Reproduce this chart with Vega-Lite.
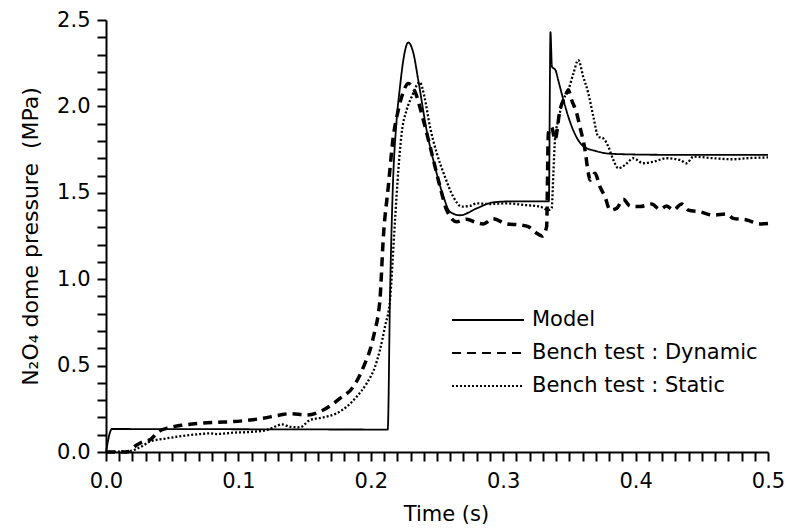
{
  "$schema": "https://vega.github.io/schema/vega-lite/v6.json",
  "width": 662,
  "height": 432,
  "autosize": "none",
  "padding": {"left": 106, "top": 20, "right": 20, "bottom": 77},
  "background": "white",
  "config": {
    "view": {"stroke": null},
    "font": "DejaVu Sans",
    "axis": {
      "grid": false,
      "domainColor": "black",
      "domainWidth": 2,
      "tickColor": "black",
      "tickWidth": 2,
      "tickSize": 9,
      "labelColor": "black",
      "labelFontSize": 21,
      "labelFont": "DejaVu Sans",
      "labelOverlap": false,
      "labelFlush": false,
      "titleColor": "black",
      "titleFontSize": 21,
      "titleFont": "DejaVu Sans",
      "titleFontWeight": "normal"
    }
  },
  "data": {
    "values": [
      {"s": "Model", "t": 0, "p": 0},
      {"s": "Model", "t": 0.0045, "p": 0.133},
      {"s": "Model", "t": 0.2128, "p": 0.13},
      {"s": "Model", "t": 0.2145, "p": 0.9},
      {"s": "Model", "t": 0.2165, "p": 1.5},
      {"s": "Model", "t": 0.2195, "p": 1.92},
      {"s": "Model", "t": 0.222, "p": 2.11},
      {"s": "Model", "t": 0.2246, "p": 2.27},
      {"s": "Model", "t": 0.2283, "p": 2.37},
      {"s": "Model", "t": 0.2321, "p": 2.31},
      {"s": "Model", "t": 0.2359, "p": 2.15},
      {"s": "Model", "t": 0.2422, "p": 1.86},
      {"s": "Model", "t": 0.2485, "p": 1.65},
      {"s": "Model", "t": 0.2548, "p": 1.48},
      {"s": "Model", "t": 0.2598, "p": 1.39},
      {"s": "Model", "t": 0.2674, "p": 1.37},
      {"s": "Model", "t": 0.28, "p": 1.41},
      {"s": "Model", "t": 0.2925, "p": 1.445},
      {"s": "Model", "t": 0.305, "p": 1.45},
      {"s": "Model", "t": 0.3345, "p": 1.45},
      {"s": "Model", "t": 0.3357, "p": 2.43},
      {"s": "Model", "t": 0.3368, "p": 2.23},
      {"s": "Model", "t": 0.3395, "p": 2.21},
      {"s": "Model", "t": 0.3416, "p": 2.15},
      {"s": "Model", "t": 0.3454, "p": 2.04},
      {"s": "Model", "t": 0.3492, "p": 1.94},
      {"s": "Model", "t": 0.3542, "p": 1.84},
      {"s": "Model", "t": 0.3605, "p": 1.77},
      {"s": "Model", "t": 0.3706, "p": 1.74},
      {"s": "Model", "t": 0.3832, "p": 1.725},
      {"s": "Model", "t": 0.42, "p": 1.72},
      {"s": "Model", "t": 0.5, "p": 1.72},

      {"s": "Bench test : Dynamic", "t": 0, "p": 0},
      {"s": "Bench test : Dynamic", "t": 0.0156, "p": 0.0},
      {"s": "Bench test : Dynamic", "t": 0.0232, "p": 0.04},
      {"s": "Bench test : Dynamic", "t": 0.0282, "p": 0.06},
      {"s": "Bench test : Dynamic", "t": 0.0332, "p": 0.07},
      {"s": "Bench test : Dynamic", "t": 0.037, "p": 0.098},
      {"s": "Bench test : Dynamic", "t": 0.0408, "p": 0.123},
      {"s": "Bench test : Dynamic", "t": 0.0458, "p": 0.137},
      {"s": "Bench test : Dynamic", "t": 0.0584, "p": 0.156},
      {"s": "Bench test : Dynamic", "t": 0.071, "p": 0.166},
      {"s": "Bench test : Dynamic", "t": 0.0836, "p": 0.172},
      {"s": "Bench test : Dynamic", "t": 0.0962, "p": 0.176},
      {"s": "Bench test : Dynamic", "t": 0.1088, "p": 0.185},
      {"s": "Bench test : Dynamic", "t": 0.1214, "p": 0.199},
      {"s": "Bench test : Dynamic", "t": 0.1314, "p": 0.214},
      {"s": "Bench test : Dynamic", "t": 0.139, "p": 0.222},
      {"s": "Bench test : Dynamic", "t": 0.1516, "p": 0.214},
      {"s": "Bench test : Dynamic", "t": 0.1641, "p": 0.243},
      {"s": "Bench test : Dynamic", "t": 0.1767, "p": 0.31},
      {"s": "Bench test : Dynamic", "t": 0.1868, "p": 0.378},
      {"s": "Bench test : Dynamic", "t": 0.1918, "p": 0.446},
      {"s": "Bench test : Dynamic", "t": 0.1956, "p": 0.513},
      {"s": "Bench test : Dynamic", "t": 0.1994, "p": 0.59},
      {"s": "Bench test : Dynamic", "t": 0.2032, "p": 0.706},
      {"s": "Bench test : Dynamic", "t": 0.2057, "p": 0.8},
      {"s": "Bench test : Dynamic", "t": 0.2069, "p": 0.88},
      {"s": "Bench test : Dynamic", "t": 0.2095, "p": 1.246},
      {"s": "Bench test : Dynamic", "t": 0.2132, "p": 1.535},
      {"s": "Bench test : Dynamic", "t": 0.217, "p": 1.825},
      {"s": "Bench test : Dynamic", "t": 0.2208, "p": 1.98},
      {"s": "Bench test : Dynamic", "t": 0.2246, "p": 2.085},
      {"s": "Bench test : Dynamic", "t": 0.2283, "p": 2.133},
      {"s": "Bench test : Dynamic", "t": 0.2334, "p": 2.085},
      {"s": "Bench test : Dynamic", "t": 0.2397, "p": 1.92},
      {"s": "Bench test : Dynamic", "t": 0.246, "p": 1.73},
      {"s": "Bench test : Dynamic", "t": 0.2523, "p": 1.535},
      {"s": "Bench test : Dynamic", "t": 0.2573, "p": 1.4},
      {"s": "Bench test : Dynamic", "t": 0.2649, "p": 1.333},
      {"s": "Bench test : Dynamic", "t": 0.2724, "p": 1.347},
      {"s": "Bench test : Dynamic", "t": 0.28, "p": 1.327},
      {"s": "Bench test : Dynamic", "t": 0.285, "p": 1.32},
      {"s": "Bench test : Dynamic", "t": 0.2925, "p": 1.35},
      {"s": "Bench test : Dynamic", "t": 0.3026, "p": 1.32},
      {"s": "Bench test : Dynamic", "t": 0.3127, "p": 1.314},
      {"s": "Bench test : Dynamic", "t": 0.319, "p": 1.304},
      {"s": "Bench test : Dynamic", "t": 0.3253, "p": 1.266},
      {"s": "Bench test : Dynamic", "t": 0.3296, "p": 1.25},
      {"s": "Bench test : Dynamic", "t": 0.3328, "p": 1.304},
      {"s": "Bench test : Dynamic", "t": 0.3341, "p": 1.844},
      {"s": "Bench test : Dynamic", "t": 0.3366, "p": 1.88},
      {"s": "Bench test : Dynamic", "t": 0.3391, "p": 1.806},
      {"s": "Bench test : Dynamic", "t": 0.3429, "p": 1.98},
      {"s": "Bench test : Dynamic", "t": 0.3467, "p": 2.056},
      {"s": "Bench test : Dynamic", "t": 0.3492, "p": 2.095},
      {"s": "Bench test : Dynamic", "t": 0.3517, "p": 2.037},
      {"s": "Bench test : Dynamic", "t": 0.3555, "p": 1.96},
      {"s": "Bench test : Dynamic", "t": 0.358, "p": 1.88},
      {"s": "Bench test : Dynamic", "t": 0.3618, "p": 1.748},
      {"s": "Bench test : Dynamic", "t": 0.3643, "p": 1.613},
      {"s": "Bench test : Dynamic", "t": 0.3656, "p": 1.574},
      {"s": "Bench test : Dynamic", "t": 0.3693, "p": 1.613},
      {"s": "Bench test : Dynamic", "t": 0.3731, "p": 1.535},
      {"s": "Bench test : Dynamic", "t": 0.3769, "p": 1.477},
      {"s": "Bench test : Dynamic", "t": 0.3807, "p": 1.4},
      {"s": "Bench test : Dynamic", "t": 0.3857, "p": 1.41},
      {"s": "Bench test : Dynamic", "t": 0.3907, "p": 1.462},
      {"s": "Bench test : Dynamic", "t": 0.3958, "p": 1.424},
      {"s": "Bench test : Dynamic", "t": 0.4033, "p": 1.42},
      {"s": "Bench test : Dynamic", "t": 0.4121, "p": 1.435},
      {"s": "Bench test : Dynamic", "t": 0.4184, "p": 1.404},
      {"s": "Bench test : Dynamic", "t": 0.4235, "p": 1.424},
      {"s": "Bench test : Dynamic", "t": 0.4285, "p": 1.4},
      {"s": "Bench test : Dynamic", "t": 0.4348, "p": 1.435},
      {"s": "Bench test : Dynamic", "t": 0.4398, "p": 1.4},
      {"s": "Bench test : Dynamic", "t": 0.4486, "p": 1.39},
      {"s": "Bench test : Dynamic", "t": 0.4587, "p": 1.371},
      {"s": "Bench test : Dynamic", "t": 0.4688, "p": 1.377},
      {"s": "Bench test : Dynamic", "t": 0.4738, "p": 1.352},
      {"s": "Bench test : Dynamic", "t": 0.4839, "p": 1.343},
      {"s": "Bench test : Dynamic", "t": 0.494, "p": 1.32},
      {"s": "Bench test : Dynamic", "t": 0.5, "p": 1.323},

      {"s": "Bench test : Static", "t": 0, "p": 0},
      {"s": "Bench test : Static", "t": 0.018, "p": 0.006},
      {"s": "Bench test : Static", "t": 0.0257, "p": 0.027},
      {"s": "Bench test : Static", "t": 0.0332, "p": 0.06},
      {"s": "Bench test : Static", "t": 0.0458, "p": 0.079},
      {"s": "Bench test : Static", "t": 0.0584, "p": 0.093},
      {"s": "Bench test : Static", "t": 0.071, "p": 0.104},
      {"s": "Bench test : Static", "t": 0.0785, "p": 0.108},
      {"s": "Bench test : Static", "t": 0.0836, "p": 0.104},
      {"s": "Bench test : Static", "t": 0.0962, "p": 0.112},
      {"s": "Bench test : Static", "t": 0.1088, "p": 0.116},
      {"s": "Bench test : Static", "t": 0.1214, "p": 0.127},
      {"s": "Bench test : Static", "t": 0.1289, "p": 0.15},
      {"s": "Bench test : Static", "t": 0.1327, "p": 0.16},
      {"s": "Bench test : Static", "t": 0.139, "p": 0.146},
      {"s": "Bench test : Static", "t": 0.1465, "p": 0.143},
      {"s": "Bench test : Static", "t": 0.1541, "p": 0.185},
      {"s": "Bench test : Static", "t": 0.1641, "p": 0.2},
      {"s": "Bench test : Static", "t": 0.1742, "p": 0.224},
      {"s": "Bench test : Static", "t": 0.1818, "p": 0.262},
      {"s": "Bench test : Static", "t": 0.1893, "p": 0.32},
      {"s": "Bench test : Static", "t": 0.1969, "p": 0.397},
      {"s": "Bench test : Static", "t": 0.2032, "p": 0.494},
      {"s": "Bench test : Static", "t": 0.2069, "p": 0.59},
      {"s": "Bench test : Static", "t": 0.2107, "p": 0.725},
      {"s": "Bench test : Static", "t": 0.2145, "p": 0.88},
      {"s": "Bench test : Static", "t": 0.2183, "p": 1.343},
      {"s": "Bench test : Static", "t": 0.2208, "p": 1.632},
      {"s": "Bench test : Static", "t": 0.2233, "p": 1.844},
      {"s": "Bench test : Static", "t": 0.2271, "p": 1.98},
      {"s": "Bench test : Static", "t": 0.2309, "p": 2.056},
      {"s": "Bench test : Static", "t": 0.237, "p": 2.14},
      {"s": "Bench test : Static", "t": 0.2405, "p": 2.056},
      {"s": "Bench test : Static", "t": 0.2447, "p": 1.882},
      {"s": "Bench test : Static", "t": 0.2498, "p": 1.73},
      {"s": "Bench test : Static", "t": 0.256, "p": 1.593},
      {"s": "Bench test : Static", "t": 0.2623, "p": 1.477},
      {"s": "Bench test : Static", "t": 0.2687, "p": 1.42},
      {"s": "Bench test : Static", "t": 0.2749, "p": 1.424},
      {"s": "Bench test : Static", "t": 0.28, "p": 1.439},
      {"s": "Bench test : Static", "t": 0.29, "p": 1.435},
      {"s": "Bench test : Static", "t": 0.3026, "p": 1.439},
      {"s": "Bench test : Static", "t": 0.3152, "p": 1.43},
      {"s": "Bench test : Static", "t": 0.3278, "p": 1.42},
      {"s": "Bench test : Static", "t": 0.3341, "p": 1.4},
      {"s": "Bench test : Static", "t": 0.3366, "p": 1.41},
      {"s": "Bench test : Static", "t": 0.3379, "p": 1.613},
      {"s": "Bench test : Static", "t": 0.3391, "p": 1.806},
      {"s": "Bench test : Static", "t": 0.3416, "p": 1.92},
      {"s": "Bench test : Static", "t": 0.3454, "p": 2.037},
      {"s": "Bench test : Static", "t": 0.3492, "p": 2.095},
      {"s": "Bench test : Static", "t": 0.353, "p": 2.19},
      {"s": "Bench test : Static", "t": 0.3567, "p": 2.268},
      {"s": "Bench test : Static", "t": 0.3605, "p": 2.17},
      {"s": "Bench test : Static", "t": 0.3643, "p": 2.076},
      {"s": "Bench test : Static", "t": 0.3681, "p": 1.94},
      {"s": "Bench test : Static", "t": 0.3718, "p": 1.825},
      {"s": "Bench test : Static", "t": 0.3756, "p": 1.815},
      {"s": "Bench test : Static", "t": 0.3794, "p": 1.767},
      {"s": "Bench test : Static", "t": 0.3832, "p": 1.69},
      {"s": "Bench test : Static", "t": 0.387, "p": 1.642},
      {"s": "Bench test : Static", "t": 0.392, "p": 1.661},
      {"s": "Bench test : Static", "t": 0.3983, "p": 1.7},
      {"s": "Bench test : Static", "t": 0.4058, "p": 1.671},
      {"s": "Bench test : Static", "t": 0.4134, "p": 1.68},
      {"s": "Bench test : Static", "t": 0.4235, "p": 1.7},
      {"s": "Bench test : Static", "t": 0.4335, "p": 1.69},
      {"s": "Bench test : Static", "t": 0.4386, "p": 1.671},
      {"s": "Bench test : Static", "t": 0.4436, "p": 1.709},
      {"s": "Bench test : Static", "t": 0.4587, "p": 1.7},
      {"s": "Bench test : Static", "t": 0.4738, "p": 1.694},
      {"s": "Bench test : Static", "t": 0.4839, "p": 1.7},
      {"s": "Bench test : Static", "t": 0.5, "p": 1.705}
    ]
  },
  "encoding": {
    "x": {
      "field": "t",
      "type": "quantitative",
      "scale": {"domain": [0, 0.5], "nice": false, "zero": false},
      "axis": {
        "title": "Time (s)",
        "values": [0,0.01,0.02,0.03,0.04,0.05,0.06,0.07,0.08,0.09,0.1,0.11,0.12,0.13,0.14,0.15,0.16,0.17,0.18,0.19,0.2,0.21,0.22,0.23,0.24,0.25,0.26,0.27,0.28,0.29,0.3,0.31,0.32,0.33,0.34,0.35,0.36,0.37,0.38,0.39,0.4,0.41,0.42,0.43,0.44,0.45,0.46,0.47,0.48,0.49,0.5],
        "labelExpr": "abs(round(datum.value*10)-datum.value*10) < 0.000001 ? format(datum.value, '.1f') : ''",
        "labelPadding": 9,
        "titlePadding": 12,
        "titleX": 340,
        "encode": {
          "ticks": {"update": {"y2": {"signal": "abs(round(datum.value*10)-datum.value*10) < 0.000001 ? 9 : 6"}}}
        }
      }
    },
    "y": {
      "field": "p",
      "type": "quantitative",
      "scale": {"domain": [0, 2.5], "nice": false},
      "axis": {
        "title": "N₂O₄ dome pressure\u00a0 (MPa)",
        "values": [0,0.1,0.2,0.3,0.4,0.5,0.6,0.7,0.8,0.9,1,1.1,1.2,1.3,1.4,1.5,1.6,1.7,1.8,1.9,2,2.1,2.2,2.3,2.4,2.5],
        "labelExpr": "abs(round(datum.value*2)-datum.value*2) < 0.000001 ? format(datum.value, '.1f') : ''",
        "labelPadding": 7,
        "titlePadding": 14,
        "titleFontSize": 22,
        "encode": {
          "ticks": {"update": {"x2": {"signal": "abs(round(datum.value*2)-datum.value*2) < 0.000001 ? -9 : -6"}}}
        }
      }
    },
    "strokeDash": {
      "field": "s",
      "type": "nominal",
      "scale": {
        "domain": ["Model", "Bench test : Dynamic", "Bench test : Static"],
        "range": [[1, 0], [9, 6], [2, 2]]
      },
      "legend": {
        "title": null,
        "orient": "none",
        "legendX": 369,
        "legendY": 287,
        "padding": 0,
        "symbolType": "M-3,0H3",
        "symbolSize": 576,
        "symbolStrokeWidth": 2,
        "symbolStrokeColor": "black",
        "symbolFillColor": "transparent",
        "labelFont": "DejaVu Sans",
        "labelFontSize": 21,
        "labelColor": "black",
        "labelOffset": 31,
        "labelLimit": 400,
        "rowPadding": 10
      }
    }
  },
  "layer": [
    {
      "transform": [{"filter": "datum.s === 'Bench test : Static'"}],
      "mark": {"type": "line", "color": "black", "strokeWidth": 2.3, "interpolate": "monotone"}
    },
    {
      "transform": [{"filter": "datum.s === 'Bench test : Dynamic'"}],
      "mark": {"type": "line", "color": "black", "strokeWidth": 3.5, "interpolate": "monotone"}
    },
    {
      "transform": [{"filter": "datum.s === 'Model'"}],
      "mark": {"type": "line", "color": "black", "strokeWidth": 1.8, "interpolate": "monotone"}
    }
  ]
}
